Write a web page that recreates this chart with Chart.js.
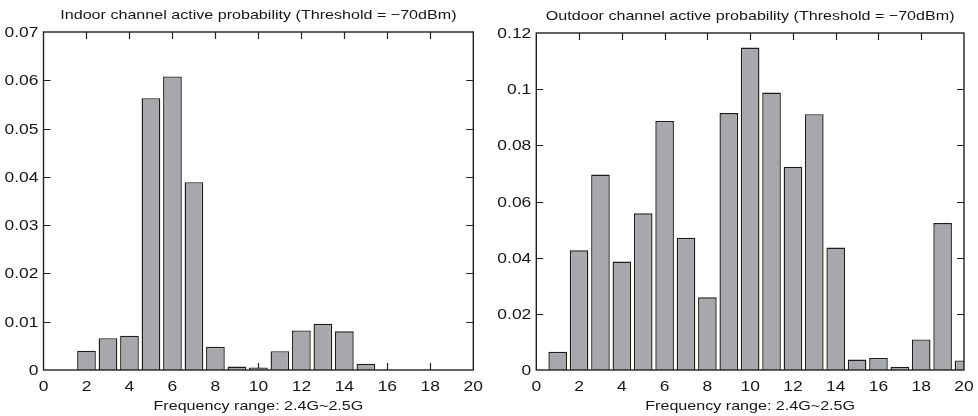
<!DOCTYPE html>
<html>
<head>
<meta charset="utf-8">
<script src="https://cdn.jsdelivr.net/npm/chart.js@4.4.1/dist/chart.umd.min.js"></script>
<style>
  html, body { margin: 0; padding: 0; background: #ffffff; }
  body { width: 978px; height: 416px; position: relative; overflow: hidden; }
  canvas { position: absolute; top: 0; }
  #indoor { left: 0; }
  #outdoor { left: 489px; }
</style>
</head>
<body>
<canvas id="indoor" width="489" height="416"></canvas>
<canvas id="outdoor" width="489" height="416"></canvas>
<script>
// Channel index across the 2.4G~2.5G band
const channels = [1, 2, 3, 4, 5, 6, 7, 8, 9, 10, 11, 12, 13, 14, 15, 16, 17, 18, 19, 20];

// Active probability per channel (threshold -70dBm)
const indoorProb = [0, 0.0040, 0.0066, 0.0071, 0.0563, 0.0608, 0.0389, 0.0048, 0.0007, 0.0005,
                    0.0039, 0.0082, 0.0096, 0.0080, 0.0013, 0, 0, 0, 0, 0];
const outdoorProb = [0.0065, 0.0426, 0.0696, 0.0386, 0.0558, 0.0887, 0.0471, 0.0259, 0.0915, 0.1148,
                     0.0988, 0.0724, 0.0911, 0.0436, 0.0037, 0.0043, 0.0012, 0.0109, 0.0523, 0.0034];

// Axis ticks
const xTicks = [0, 2, 4, 6, 8, 10, 12, 14, 16, 18, 20];
const indoorYTicks = [0, 0.01, 0.02, 0.03, 0.04, 0.05, 0.06, 0.07];
const indoorYLabels = ['0', '0.01', '0.02', '0.03', '0.04', '0.05', '0.06', '0.07'];
const outdoorYTicks = [0, 0.02, 0.04, 0.06, 0.08, 0.1, 0.12];
const outdoorYLabels = ['0', '0.02', '0.04', '0.06', '0.08', '0.1', '0.12'];

// Text
const indoorTitle = 'Indoor channel active probability (Threshold = \u221270dBm)';
const outdoorTitle = 'Outdoor channel active probability (Threshold = \u221270dBm)';
const xAxisTitle = 'Frequency range: 2.4G~2.5G';

const FONT_FAMILY = '"Liberation Sans", Arial, Helvetica, sans-serif';
const TEXT_COLOR = '#161616';
const FRAME_COLOR = '#222222';
const BAR_FILL = '#a7a8ac';
const BAR_EDGE = '#1c1c1c';
const TEXT_STRETCH = 1.22;
const TICK_LEN = 7;

// Text drawn with a slight horizontal widening, anchored at (x, y)
function drawText(ctx, str, x, y, align, size) {
  ctx.save();
  ctx.translate(x, y);
  ctx.scale(TEXT_STRETCH, 1);
  ctx.font = size + 'px ' + FONT_FAMILY;
  ctx.fillStyle = TEXT_COLOR;
  ctx.textAlign = align;
  ctx.textBaseline = 'alphabetic';
  ctx.fillText(str, 0, 0);
  ctx.restore();
}

// Boxed axes with inward ticks on all four sides, plus labels and titles
const framePlugin = {
  id: 'frameAxes',
  beforeDatasetsDraw(chart, args, opts) {
    const { ctx, chartArea: a, scales } = chart;
    const xs = scales.x, ys = scales.y;
    ctx.save();
    ctx.strokeStyle = FRAME_COLOR;
    ctx.lineWidth = 1.2;
    ctx.beginPath();
    xTicks.forEach(v => {
      if (v <= xs.min || v >= xs.max) return;
      const px = Math.round(xs.getPixelForValue(v)) + 0.5;
      ctx.moveTo(px, a.bottom); ctx.lineTo(px, a.bottom - TICK_LEN);
      ctx.moveTo(px, a.top); ctx.lineTo(px, a.top + TICK_LEN);
    });
    opts.yTicks.forEach(v => {
      if (v <= ys.min || v >= ys.max) return;
      const py = Math.round(ys.getPixelForValue(v)) + 0.5;
      ctx.moveTo(a.left, py); ctx.lineTo(a.left + TICK_LEN, py);
      ctx.moveTo(a.right, py); ctx.lineTo(a.right - TICK_LEN, py);
    });
    ctx.stroke();
    ctx.restore();
  },
  afterDatasetsDraw(chart, args, opts) {
    const { ctx, chartArea: a, scales } = chart;
    const xs = scales.x, ys = scales.y;
    ctx.save();
    ctx.strokeStyle = FRAME_COLOR;
    ctx.lineWidth = 1.4;
    ctx.strokeRect(a.left, a.top, a.right - a.left, a.bottom - a.top);
    ctx.restore();

    // tick labels
    xTicks.forEach(v => {
      drawText(ctx, String(v), xs.getPixelForValue(v), a.bottom + 21, 'center', 14.3);
    });
    opts.yTicks.forEach((v, i) => {
      drawText(ctx, opts.yLabels[i], a.left - 5, ys.getPixelForValue(v) + 5, 'right', 14.3);
    });

    // titles
    const cx = (a.left + a.right) / 2;
    drawText(ctx, opts.title, cx, opts.titleBaseline, 'center', 13.2);
    drawText(ctx, xAxisTitle, cx, a.bottom + 40, 'center', 13.2);
  }
};

function makeChart(id, values, yMax, yTicks, yLabels, title, titleBaseline, padding) {
  return new Chart(document.getElementById(id), {
    type: 'bar',
    data: {
      datasets: [{
        data: channels.map((c, i) => ({ x: c, y: values[i] })),
        backgroundColor: BAR_FILL,
        borderColor: BAR_EDGE,
        borderWidth: 1.4,
        borderSkipped: 'start',
        barPercentage: 0.87,
        categoryPercentage: 1.0
      }]
    },
    options: {
      responsive: false,
      animation: false,
      devicePixelRatio: 1,
      layout: { padding },
      plugins: {
        legend: { display: false },
        title: { display: false },
        tooltip: { enabled: false },
        frameAxes: { yTicks, yLabels, title, titleBaseline }
      },
      scales: {
        x: { type: 'linear', min: 0, max: 20, offset: false, display: false },
        y: { type: 'linear', min: 0, max: yMax, display: false }
      }
    },
    plugins: [framePlugin]
  });
}

makeChart('indoor', indoorProb, 0.07, indoorYTicks, indoorYLabels, indoorTitle, 19,
  { left: 43.5, right: 15.7, top: 32, bottom: 46 });
makeChart('outdoor', outdoorProb, 0.12, outdoorYTicks, outdoorYLabels, outdoorTitle, 20,
  { left: 47.3, right: 14, top: 33, bottom: 46 });
</script>
</body>
</html>
